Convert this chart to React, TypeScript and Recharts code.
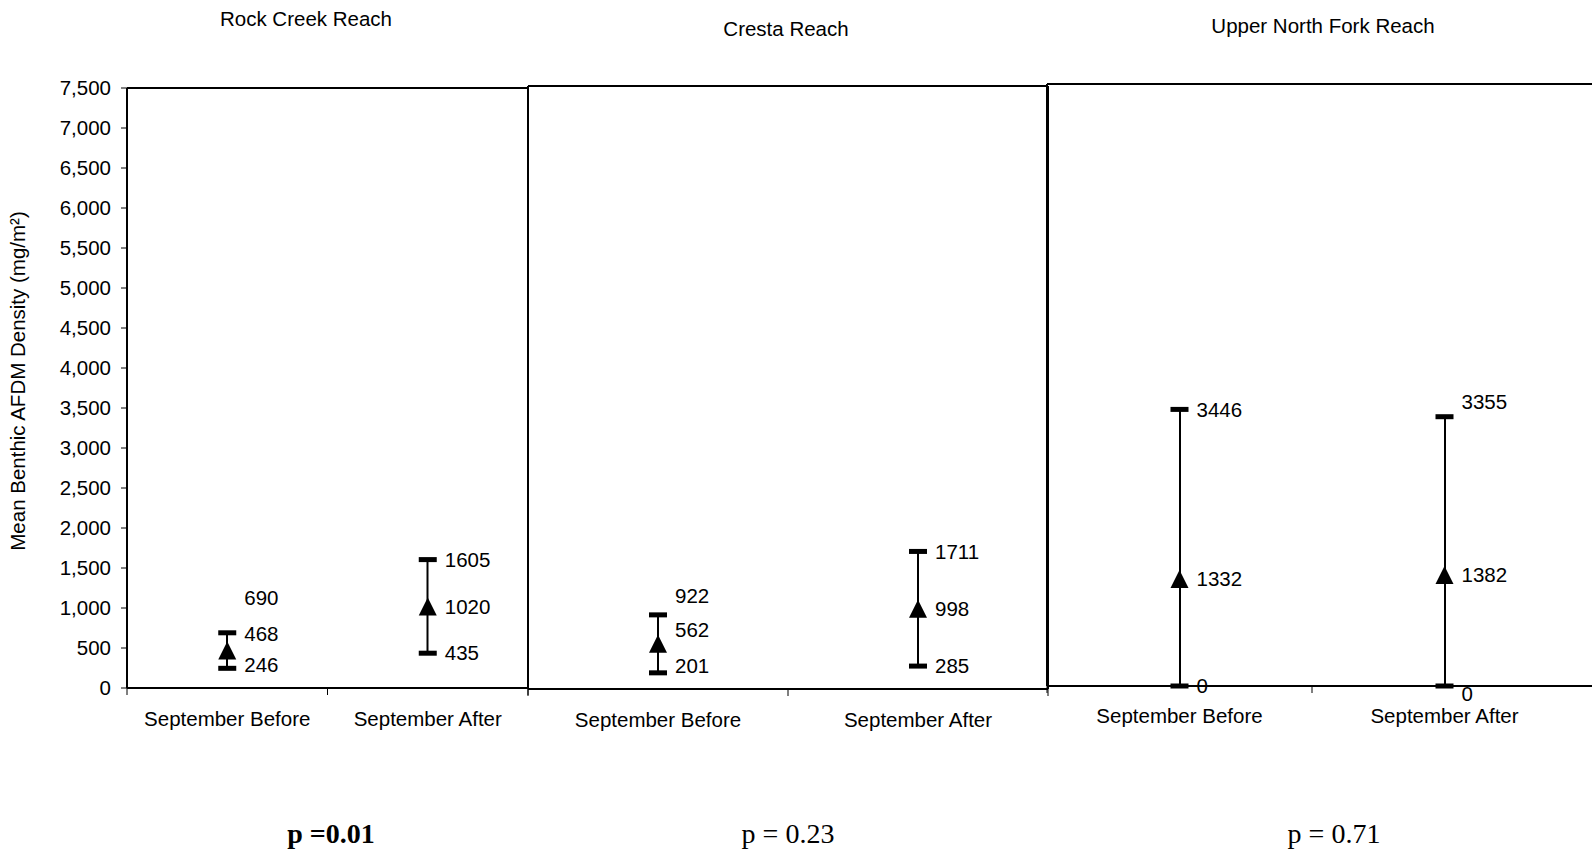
import React from 'react';
import { ComposedChart, Bar, Line, XAxis, YAxis, LabelList } from 'recharts';

// ---------- data ----------
const categories = ['September Before', 'September After'];
const reachTitles = ['Rock Creek Reach', 'Cresta Reach', 'Upper North Fork Reach'];
const pValueLabels = ['p =0.01', 'p = 0.23', 'p = 0.71'];
const yAxisTitle = 'Mean Benthic AFDM Density (mg/m²)';

const rockCreekMean = [468, 1020];
const rockCreekLow = [246, 435];
const rockCreekHigh = [690, 1605];

const crestaMean = [562, 998];
const crestaLow = [201, 285];
const crestaHigh = [922, 1711];

const upperNorthForkMean = [1332, 1382];
const upperNorthForkLow = [0, 0];
const upperNorthForkHigh = [3446, 3355];

const yTicks = [0, 500, 1000, 1500, 2000, 2500, 3000, 3500, 4000, 4500, 5000, 5500, 6000, 6500, 7000, 7500];

// ---------- styles ----------
const FONT = '"Liberation Sans", Arial, Helvetica, sans-serif';
const SERIF = '"Liberation Serif", "Times New Roman", Times, serif';
const FS = 20.5;

function buildRows(mean: number[], low: number[], high: number[]) {
  return categories.map((name, i) => ({
    name,
    mean: mean[i],
    low: low[i],
    high: high[i],
    range: [low[i], high[i]],
  }));
}

const CapDot = (props: any) => {
  const { cx, cy, index } = props;
  if (cx == null || cy == null || isNaN(cx) || isNaN(cy)) return <g key={'c' + index} />;
  return <rect key={'c' + index} x={cx - 9} y={cy - 2.5} width={18} height={5} fill="#000" />;
};

const TriangleDot = (props: any) => {
  const { cx, cy, index } = props;
  if (cx == null || cy == null || isNaN(cx) || isNaN(cy)) return <g key={'t' + index} />;
  return (
    <polygon
      key={'t' + index}
      points={`${cx},${cy - 9} ${cx - 9},${cy + 9} ${cx + 9},${cy + 9}`}
      fill="#000"
    />
  );
};

const makeLabel = (shifts: number[]) => (props: any) => {
  const { value, index } = props;
  const x = props.x ?? props.viewBox?.x;
  const y = props.y ?? props.viewBox?.y;
  if (x == null || y == null) return null;
  return (
    <text
      key={'l' + index}
      x={x + 17}
      y={y + (shifts[index] || 0)}
      dy="0.355em"
      fontSize={FS}
      fontFamily={FONT}
      fill="#000"
    >
      {value}
    </text>
  );
};

const makeCategoryTick = (showRightEdge: boolean, gap: number) => (props: any) => {
  const { x, y, payload, index } = props;
  const off = payload && payload.offset != null ? payload.offset : 0;
  const axisY = y - gap;
  const lines: any[] = [];
  lines.push(<line key="a" x1={x - off} x2={x - off} y1={axisY} y2={axisY + 7} stroke="#000" strokeWidth={1} />);
  if (showRightEdge && index === categories.length - 1) {
    lines.push(<line key="b" x1={x + off} x2={x + off} y1={axisY} y2={axisY + 7} stroke="#000" strokeWidth={1} />);
  }
  return (
    <g>
      {lines}
      <text x={x} y={y} dy="0.71em" textAnchor="middle" fontSize={FS} fontFamily={FONT} fill="#000">
        {payload.value}
      </text>
    </g>
  );
};

type PanelProps = {
  rows: any[];
  left: number;
  width: number;
  height: number;
  margin: { top: number; right: number; bottom: number; left: number };
  showYAxis: boolean;
  showRight: boolean;
  padRight: number;
  tickGap: number;
  shifts: { high: number[]; mean: number[]; low: number[] };
};

function Panel(p: PanelProps) {
  const axisLine = { stroke: '#000', strokeWidth: 2 };
  // top axis occupies 1px, right axis occupies 1px: take them out of the margins
  const margin = {
    top: p.margin.top - 1,
    right: p.showRight ? p.margin.right - 1 : p.margin.right,
    bottom: p.margin.bottom,
    left: p.margin.left,
  };
  return (
    <div style={{ position: 'absolute', left: p.left, top: 0, width: p.width, height: p.height }}>
      <ComposedChart width={p.width} height={p.height} data={p.rows} margin={margin}>
        <XAxis
          xAxisId="cat"
          dataKey="name"
          type="category"
          height={60}
          tickSize={0}
          tickMargin={p.tickGap}
          tickLine={false}
          axisLine={axisLine}
          padding={{ left: 0, right: p.padRight }}
          interval={0}
          tick={makeCategoryTick(p.showRight, p.tickGap)}
        />
        <XAxis
          xAxisId="top"
          orientation="top"
          dataKey="name"
          type="category"
          height={1}
          tick={false}
          tickLine={false}
          axisLine={axisLine}
        />
        {p.showYAxis ? (
          <YAxis
            yAxisId="v"
            type="number"
            domain={[0, 7500]}
            ticks={yTicks}
            interval={0}
            width={100}
            tickSize={6}
            tickMargin={10}
            tickFormatter={(v: number) => v.toLocaleString('en-US')}
            tick={{ fill: '#000', fontSize: FS, fontFamily: FONT }}
            tickLine={{ stroke: '#000' }}
            axisLine={axisLine}
          />
        ) : (
          <YAxis
            yAxisId="v"
            type="number"
            domain={[0, 7500]}
            ticks={yTicks}
            width={1}
            tick={false}
            tickLine={false}
            axisLine={axisLine}
          />
        )}
        {p.showRight && (
          <YAxis
            yAxisId="r"
            orientation="right"
            type="number"
            domain={[0, 7500]}
            width={1}
            tick={false}
            tickLine={false}
            axisLine={axisLine}
          />
        )}
        <Bar xAxisId="cat" yAxisId="v" dataKey="range" barSize={2} fill="#000" isAnimationActive={false} />
        <Line
          xAxisId="top"
          yAxisId={p.showRight ? 'r' : 'v'}
          dataKey="mean"
          stroke="none"
          dot={false}
          activeDot={false}
          legendType="none"
          isAnimationActive={false}
        />
        <Line
          xAxisId="cat"
          yAxisId="v"
          dataKey="high"
          stroke="none"
          dot={CapDot}
          activeDot={false}
          isAnimationActive={false}
        >
          <LabelList dataKey="high" content={makeLabel(p.shifts.high)} />
        </Line>
        <Line
          xAxisId="cat"
          yAxisId="v"
          dataKey="low"
          stroke="none"
          dot={CapDot}
          activeDot={false}
          isAnimationActive={false}
        >
          <LabelList dataKey="low" content={makeLabel(p.shifts.low)} />
        </Line>
        <Line
          xAxisId="cat"
          yAxisId="v"
          dataKey="mean"
          stroke="none"
          dot={TriangleDot}
          activeDot={false}
          isAnimationActive={false}
        >
          <LabelList dataKey="mean" content={makeLabel(p.shifts.mean)} />
        </Line>
      </ComposedChart>
    </div>
  );
}

export default function App() {
  const rows1 = buildRows(rockCreekMean, rockCreekLow, rockCreekHigh);
  const rows2 = buildRows(crestaMean, crestaLow, crestaHigh);
  const rows3 = buildRows(upperNorthForkMean, upperNorthForkLow, upperNorthForkHigh);
  const H = 780;
  return (
    <div
      style={{
        position: 'absolute',
        left: 0,
        top: 0,
        width: 1592,
        height: 851,
        overflow: 'hidden',
        background: '#fff',
      }}
    >
      <Panel
        rows={rows1}
        left={0}
        width={560}
        height={H}
        margin={{ top: 88, right: 32, left: 27, bottom: H - 688 - 60 }}
        showYAxis={true}
        showRight={true}
        padRight={0}
        tickGap={23}
        shifts={{ high: [-35, 0], mean: [-17, 0], low: [-4, 0] }}
      />
      <Panel
        rows={rows2}
        left={500}
        width={580}
        height={H}
        margin={{ top: 86, right: 32, left: 27, bottom: H - 689 - 60 }}
        showYAxis={false}
        showRight={true}
        padRight={0}
        tickGap={23}
        shifts={{ high: [-19, 0], mean: [-14, 0], low: [-7, 0] }}
      />
      <Panel
        rows={rows3}
        left={1020}
        width={600}
        height={H}
        margin={{ top: 84, right: 20, left: 26, bottom: H - 686 - 60 }}
        showYAxis={false}
        showRight={false}
        padRight={23}
        tickGap={22}
        shifts={{ high: [0, -15], mean: [0, 0], low: [0, 8] }}
      />
      <svg
        width={1592}
        height={851}
        style={{ position: 'absolute', left: 0, top: 0, pointerEvents: 'none' }}
      >
        <text x={306} y={25.5} textAnchor="middle" fontSize={FS} fontFamily={FONT} fill="#000">
          {reachTitles[0]}
        </text>
        <text x={786} y={35.5} textAnchor="middle" fontSize={FS} fontFamily={FONT} fill="#000">
          {reachTitles[1]}
        </text>
        <text x={1323} y={32.5} textAnchor="middle" fontSize={FS} fontFamily={FONT} fill="#000">
          {reachTitles[2]}
        </text>
        <text
          transform="translate(18,381) rotate(-90)"
          textAnchor="middle"
          dy="0.355em"
          fontSize={FS}
          fontFamily={FONT}
          fill="#000"
        >
          {yAxisTitle}
        </text>
        <text x={331} y={843} textAnchor="middle" fontSize={28} fontWeight="bold" fontFamily={SERIF} fill="#000">
          {pValueLabels[0]}
        </text>
        <text x={788} y={843} textAnchor="middle" fontSize={28} fontFamily={SERIF} fill="#000">
          {pValueLabels[1]}
        </text>
        <text x={1334} y={843} textAnchor="middle" fontSize={28} fontFamily={SERIF} fill="#000">
          {pValueLabels[2]}
        </text>
      </svg>
    </div>
  );
}
